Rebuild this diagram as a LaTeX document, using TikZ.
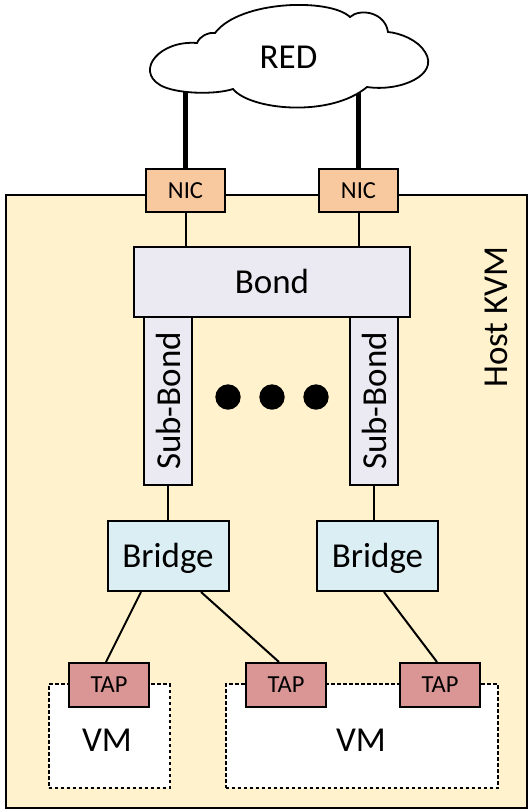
\documentclass[tikz,border=0pt]{standalone}
\usepackage{fontspec}
\usepackage{graphicx}
\setmainfont{Carlito}
\usetikzlibrary{backgrounds}
\definecolor{hostfill}{HTML}{FFF2CC}
\definecolor{nicfill}{HTML}{F8C89E}
\definecolor{bondfill}{HTML}{EBE9F1}
\definecolor{bridgefill}{HTML}{DAEEF3}
\definecolor{tapfill}{HTML}{D99694}
\begin{document}
\begin{tikzpicture}[x=1pt,y=-1pt,
  bigfont/.style={font=\fontsize{35}{40}\selectfont},
  bigtext/.style={bigfont, text height=22.5pt, text depth=0pt},
  smalltext/.style={font=\fontsize{24.5}{28}\selectfont, text height=15.7pt, text depth=0pt},
  box/.style={draw=black, line width=2pt, inner sep=0pt},
  nicbox/.style={box, smalltext, fill=nicfill, minimum width=79pt, minimum height=43pt},
  tapbox/.style={box, smalltext, fill=tapfill, minimum width=80pt, minimum height=44pt},
  bridgebox/.style={box, bigtext, fill=bridgefill, minimum width=121pt, minimum height=70pt},
  subbox/.style={box, bigfont, fill=bondfill, minimum width=48pt, minimum height=168pt},
  vmbox/.style={draw=black, line width=2pt, dash pattern=on 3.5pt off 2.5pt, fill=white, inner sep=0pt, minimum height=104pt},
  conn/.style={line width=2pt},
  uplink/.style={line width=4.5pt},
  cloudline/.style={draw=black, line width=1.8pt, fill=white},
  dot/.style={fill=black}]
\useasboundingbox (0,0) rectangle (530,811);
% host
\node[draw=black, line width=2.2pt, fill=hostfill, inner sep=0pt, minimum width=521pt, minimum height=613pt] (host) at (266.5,501.5) {};
\node[bigfont, inner sep=0pt] (hostlabel) at (496,317) {\rotatebox{90}{Host KVM}};
% cloud
\path[cloudline] (197,43)
  .. controls (160,40) and (135,70) .. (160,85)
  .. controls (175,94) and (215,95) .. (233,89)
  .. controls (250,110) and (330,118) .. (367,87)
  .. controls (400,92) and (440,75) .. (425,52)
  .. controls (418,40) and (400,33) .. (388,32)
  .. controls (385,12) and (360,8) .. (350,17)
  .. controls (330,-2) and (240,0) .. (215,33)
  .. controls (208,32) and (200,36) .. (197,43) -- cycle;
\node[bigtext, inner sep=0pt] (red) at (288.5,57) {RED};
% NICs
\node[nicbox] (nic1) at (185.5,190.5) {NIC};
\node[nicbox] (nic2) at (358.5,190.5) {NIC};
\begin{scope}[on background layer]
\draw[uplink] (nic1.north) -- (nic1.north |- red.center);
\draw[uplink] (nic2.north) -- (nic2.north |- red.center);
\end{scope}
% bond
\node[box, bigtext, fill=bondfill, minimum width=276pt, minimum height=70pt] (bond) at (272,282) {Bond};
\draw[conn] (nic1.south) -- (nic1.south |- bond.north);
\draw[conn] (nic2.south) -- (nic2.south |- bond.north);
% sub-bonds
\node[subbox] (sb1) at (168,401) {\rotatebox{90}{Sub-Bond}};
\node[subbox] (sb2) at (374,401) {\rotatebox{90}{Sub-Bond}};
\fill[dot] (228,397) circle (12.7pt);
\fill[dot] (272,397) circle (12.7pt);
\fill[dot] (316,397) circle (12.7pt);
% bridges
\node[bridgebox] (br1) at (168,556) {Bridge};
\node[bridgebox] (br2) at (377.5,556) {Bridge};
\draw[conn] (sb1.south) -- (sb1.south |- br1.north);
\draw[conn] (sb2.south) -- (sb2.south |- br2.north);
% VMs
\node[vmbox, minimum width=121pt] (vm1) at (109,736) {};
\node[vmbox, minimum width=272.5pt] (vm2) at (361.75,736) {};
\node[bigtext, inner sep=0pt] (vm1label) at (107,740) {VM};
\node[bigtext, inner sep=0pt] (vm2label) at (361,740) {VM};
% TAPs
\node[tapbox] (tap1) at (109,685) {TAP};
\node[tapbox] (tap2) at (286,685) {TAP};
\node[tapbox] (tap3) at (440,685) {TAP};
\draw[conn] ([xshift=-27pt]br1.south) -- ([xshift=-3pt]tap1.north);
\draw[conn] ([xshift=33pt]br1.south) -- ([xshift=-7pt]tap2.north);
\draw[conn] ([xshift=6.5pt]br2.south) -- ([xshift=-3pt]tap3.north);
\end{tikzpicture}
\end{document}
